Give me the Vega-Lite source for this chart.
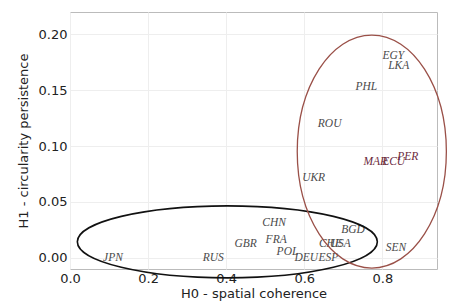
{
  "$schema": "https://vega.github.io/schema/vega-lite/v6.json",
  "width": 367,
  "height": 257,
  "autosize": "none",
  "padding": {"left": 70, "top": 12, "right": 29, "bottom": 36},
  "background": "white",
  "config": {
    "view": {"stroke": "#bbbbbb", "strokeWidth": 1},
    "axis": {
      "labelFont": "DejaVu Sans", "labelFontSize": 13, "labelColor": "#222", "labelFlush": false,
      "titleFont": "DejaVu Sans", "titleFontSize": 13, "titleFontWeight": "normal", "titleColor": "#222",
      "grid": true, "gridColor": "#eeeeee", "domain": false, "ticks": false
    }
  },
  "datasets": {
    "pts": [
      {"code": "JPN", "h0": 0.11, "h1": 0.0, "grp": "a"},
      {"code": "RUS", "h0": 0.367, "h1": 0.0, "grp": "a"},
      {"code": "GBR", "h0": 0.45, "h1": 0.0125, "grp": "a"},
      {"code": "FRA", "h0": 0.528, "h1": 0.016, "grp": "a"},
      {"code": "CHN", "h0": 0.523, "h1": 0.031, "grp": "a"},
      {"code": "POL", "h0": 0.557, "h1": 0.005, "grp": "a"},
      {"code": "DEU", "h0": 0.605, "h1": 0.0, "grp": "a"},
      {"code": "ESP", "h0": 0.662, "h1": 0.0, "grp": "a"},
      {"code": "CHE", "h0": 0.667, "h1": 0.0125, "grp": "a"},
      {"code": "USA", "h0": 0.692, "h1": 0.0125, "grp": "a"},
      {"code": "BGD", "h0": 0.725, "h1": 0.025, "grp": "a"},
      {"code": "SEN", "h0": 0.835, "h1": 0.009, "grp": "a"},
      {"code": "UKR", "h0": 0.624, "h1": 0.071, "grp": "a"},
      {"code": "ROU", "h0": 0.665, "h1": 0.12, "grp": "a"},
      {"code": "PHL", "h0": 0.759, "h1": 0.153, "grp": "a"},
      {"code": "EGY", "h0": 0.828, "h1": 0.181, "grp": "a"},
      {"code": "LKA", "h0": 0.842, "h1": 0.172, "grp": "a"},
      {"code": "MAR", "h0": 0.782, "h1": 0.086, "grp": "b"},
      {"code": "ECU", "h0": 0.829, "h1": 0.086, "grp": "b"},
      {"code": "PER", "h0": 0.865, "h1": 0.09, "grp": "b"}
    ],
    "ell": [
      {"name": "low", "cx": 0.403, "cy": 0.0143},
      {"name": "high", "cx": 0.773, "cy": 0.0951}
    ]
  },
  "layer": [
    {
      "data": {"name": "pts"},
      "mark": {"type": "text", "font": "Liberation Serif", "fontStyle": "italic", "fontSize": 11.5, "align": "center", "baseline": "middle"},
      "encoding": {
        "x": {"field": "h0", "type": "quantitative", "scale": {"domain": [0, 0.94], "nice": false, "zero": false}, "axis": {"values": [0, 0.2, 0.4, 0.6, 0.8], "format": ".1f", "title": "H0 - spatial coherence", "labelPadding": 3, "titlePadding": 2}},
        "y": {"field": "h1", "type": "quantitative", "scale": {"domain": [-0.01, 0.22], "nice": false, "zero": false}, "axis": {"values": [0, 0.05, 0.1, 0.15, 0.2], "format": ".2f", "title": "H1 - circularity persistence", "labelPadding": 3, "titlePadding": 8}},
        "text": {"field": "code"},
        "color": {"field": "grp", "type": "nominal", "scale": {"domain": ["a", "b"], "range": ["#4a4a4a", "#6b2a3c"]}, "legend": null}
      }
    },
    {
      "data": {"name": "ell"},
      "transform": [{"filter": "datum.name == 'low'"}],
      "mark": {"type": "point", "shape": "M -1 0 A 1 0.24 0 1 0 1 0 A 1 0.24 0 1 0 -1 0 Z", "size": 90000, "filled": false, "stroke": "#111111", "strokeWidth": 1.6, "opacity": 1},
      "encoding": {
        "x": {"field": "cx", "type": "quantitative"},
        "y": {"field": "cy", "type": "quantitative"}
      }
    },
    {
      "data": {"name": "ell"},
      "transform": [{"filter": "datum.name == 'high'"}],
      "mark": {"type": "point", "shape": "M -0.64 0 A 0.64 1 0 1 0 0.64 0 A 0.64 1 0 1 0 -0.64 0 Z", "size": 54289, "filled": false, "stroke": "#9a5048", "strokeWidth": 1.3, "opacity": 1},
      "encoding": {
        "x": {"field": "cx", "type": "quantitative"},
        "y": {"field": "cy", "type": "quantitative"}
      }
    }
  ]
}
